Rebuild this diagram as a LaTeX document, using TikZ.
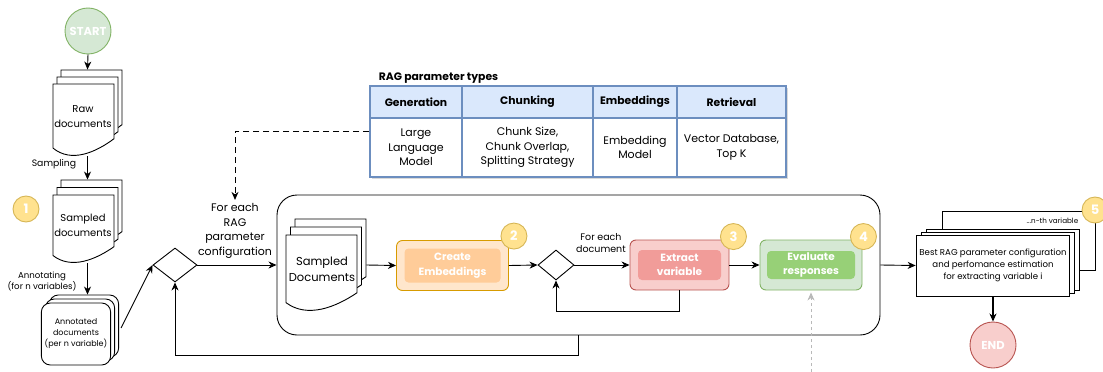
\documentclass[tikz,border=0pt]{standalone}
\usepackage{fontspec}
\setmainfont{Poppins}
\usetikzlibrary{arrows.meta,positioning,shapes.geometric,shadows,fit}

\definecolor{grfill}{HTML}{D5E8D4}
\definecolor{grline}{HTML}{82B366}
\definecolor{grinner}{HTML}{97D077}
\definecolor{rdfill}{HTML}{F8CECC}
\definecolor{rdline}{HTML}{B85450}
\definecolor{rdinner}{HTML}{F19C99}
\definecolor{orfill}{HTML}{FFE6CC}
\definecolor{orline}{HTML}{D79B00}
\definecolor{orinner}{HTML}{FFCC99}
\definecolor{ylfill}{HTML}{FFE28F}
\definecolor{ylline}{HTML}{D6B656}
\definecolor{blfill}{HTML}{DAE8FC}
\definecolor{blline}{HTML}{6C8EBF}

\newcommand{\fs}[2]{\fontsize{#1}{#2}\selectfont}
% one sheet with wavy bottom: left, top, width, height
\newcommand{\docsheet}[4]{%
  \filldraw[docline] ({#1},{#2}) -- ({#1+#3},{#2}) -- ({#1+#3},{#2+0.76*#4})
    .. controls ({#1+0.7*#3},{#2+0.95*#4}) and ({#1+0.3*#3},{#2+1.1*#4}) .. ({#1},{#2+0.89*#4}) -- cycle;}
% three sheets and a named box round them: name, left, top, width, height, dx, dy
\newcommand{\docstack}[7]{%
  \docsheet{#2+2*#6}{#3-2*#7}{#4}{#5}
  \docsheet{#2+#6}{#3-#7}{#4}{#5}
  \docsheet{#2}{#3}{#4}{#5}
  \node[fit={({#2},{#3-2*#7}) ({#2+#4+2*#6},{#3+#5})}, inner sep=0] (#1) {};}

\begin{document}
\begin{tikzpicture}[x=1pt,y=-1pt,line width=0.9pt,
  arr/.style={-{Stealth[length=8pt,width=7pt,inset=2.5pt]}},
  docline/.style={fill=white,draw=black,line width=0.9pt},
  doctext/.style={align=center,font=\fs{10}{15}},
  badge/.style={circle,draw=ylline,fill=ylfill,minimum size=26pt,inner sep=0,text=white,font=\bfseries\fs{13}{13}},
  terminal/.style={circle,minimum size=46pt,inner sep=0,text=white,font=\bfseries\fs{11.5}{12}},
  stepbox/.style={draw=#1line,fill=#1fill,rounded corners=6pt,minimum height=50pt,inner sep=0},
  stepin/.style={fill=#1inner,rounded corners=4pt,text=white,align=center,font=\bfseries\fs{10.5}{14.5},inner sep=0},
  decision/.style={diamond,draw,inner sep=0},
  sheet/.style={draw,fill=white},
  behind/.style={copy shadow={shadow xshift=#1,shadow yshift=#1,fill=white,draw=black}},
  cell/.style={draw=blline,line width=1.2pt,minimum height=#1,inner sep=0,align=center},
]
\useasboundingbox (0,0) rectangle (1103,372);

% left column
\node[terminal,draw=grline,fill=grfill] (start) at (88,31) {START};
\docstack{raw}{53}{84}{61}{72}{4}{7}
\node[doctext] (rawtext) at (83,117) {Raw\\documents};
\docstack{sampled}{53}{195}{61}{68}{4}{7.5}
\node[doctext] (sampledtext) at (83,225) {Sampled\\documents};
\node[sheet,rounded corners=9pt,minimum width=68pt,minimum height=62pt,
  behind=8pt,behind=4pt,align=center,font=\fs{8}{11}] (annot) at (76,334) {Annotated\\documents\\(per n variable)};
\node[font=\fs{9.3}{11}] (samplinglbl) at (54,164) {Sampling};
\node[font=\fs{8.6}{11},align=center] (annotlbl) at (42,282) {Annotating\\(for n variables)};
\node[badge] (b1) at (26,209) {1};

\draw[arr] (start.south) -- (raw.north);
\draw[arr] (raw.south) -- (sampled.north);
\draw[arr,shorten >=8pt] (sampled.south) -- (sampled.south |- annot.north);

% parameter table
\node[draw=blline,line width=1.2pt,fill=white,drop shadow={shadow xshift=2pt,shadow yshift=-2pt,opacity=0.3},
  minimum width=416pt,minimum height=91pt,inner sep=0] (tbl) at (578,131.5) {};
\foreach \col/\x/\w/\head/\body in {gen/416/92/Generation/{Large\\Language\\Model},
    chunk/527.5/131/Chunking/{Chunk Size,\\Chunk Overlap,\\Splitting Strategy},
    emb/635/84/Embeddings/{Embedding\\Model},
    ret/731.5/109/Retrieval/{Vector Database,\\Top K}}
{
  \node[cell=32pt,fill=blfill,minimum width=\w pt,font=\bfseries\fs{10.8}{13}] (h-\col) at (\x,102) {\head};
  \node[cell=59pt,minimum width=\w pt,font=\fs{11}{14.5}] (c-\col) at (\x,147.5) {\body};
}
\node[anchor=base west,font=\bfseries\fs{10.8}{12}] (tbltitle) at (375,80) {RAG parameter types};

% outer loop
\node[decision,minimum width=44pt,minimum height=34pt] (dec1) at (175,265) {};
\node[draw,rounded corners=20pt,minimum width=603pt,minimum height=140pt] (loop) at (578.5,265) {};
\node[align=center,font=\fs{11}{14.5}] (cfg) at (235,231) {For each\\RAG\\parameter\\configuration};
\draw[arr] ([shift={(10,-6)}]annot.east) -- (dec1.west);
\draw[arr] (dec1.east) -- (loop.west);
\draw[arr,dash pattern=on 6pt off 4pt] (tbl.west) -| (cfg.north);

% inner steps
\docstack{docs}{286}{235}{71}{76}{4.5}{8}
\node[doctext,font=\fs{11.5}{16}] (docstext) at (322,269) {Sampled\\Documents};
\node[stepbox=or,minimum width=112pt] (emb) at (452.5,265.5) {};
\node[stepin=or,minimum width=96pt,minimum height=34pt] (embtext) at (emb) {Create\\Embeddings};
\node[badge] (b2) at ([shift={(5,-4)}]emb.north east) {2};
\node[decision,minimum width=36pt,minimum height=30pt] (dec2) at (556,265) {};
\node[font=\fs{9.5}{12.5},align=center] (doclbl) at (601,243) {For each\\document};
\node[stepbox=rd,minimum width=99pt] (ext) at (679.5,265) {};
\node[stepin=rd,minimum width=83pt,minimum height=30pt] (exttext) at (ext) {Extract\\variable};
\node[badge] (b3) at ([shift={(4,-3)}]ext.north east) {3};
\node[stepbox=gr,minimum width=102pt] (eval) at (811,265) {};
\node[stepin=gr,minimum width=88pt,minimum height=28pt] (evaltext) at (eval) {Evaluate\\responses};
\node[badge] (b4) at ([shift={(1,-3)}]eval.north east) {4};
\coordinate (evalin) at (811,372);

\draw[arr] (docs.east) -- (emb.west);
\draw[arr] (emb.east) -- (dec2.west);
\draw[arr] (dec2.east) -- (ext.west);
\draw[arr] (ext.south) -- ++(0,21) -| (dec2.south);
\draw[arr] (ext.east) -- (eval.west);
\draw[arr,draw=gray!55,dash pattern=on 3pt off 3pt,shorten >=2pt] (evalin) -- (eval.south);
\draw[arr] (loop.south) -- ++(0,20) -| (dec1.south);

% result
\node[sheet,minimum width=153pt,minimum height=59pt] (nth) at (1018.5,240.5) {};
\node[anchor=base east,font=\fs{7.2}{8}] (nthlbl) at (1082,223) {...n-th variable};
\node[badge] (b5) at (1095,210) {5};
\node[sheet,minimum width=152pt,minimum height=61pt,
  copy shadow={shadow xshift=10pt,shadow yshift=6pt,fill=white,draw=black},
  copy shadow={shadow xshift=5pt,shadow yshift=3pt,fill=white,draw=black},
  align=center,font=\fs{8.6}{12}] (best) at (993,265.5) {Best RAG parameter configuration\\and perfomance estimation\\for extracting variable i};
\node[terminal,draw=rdline,fill=rdfill] (end) at (993,345) {END};
\draw[arr] (loop.east) -- (best.west);
\draw[arr,line width=1.3pt] (best.south) -- (end.north);
\end{tikzpicture}
\end{document}
